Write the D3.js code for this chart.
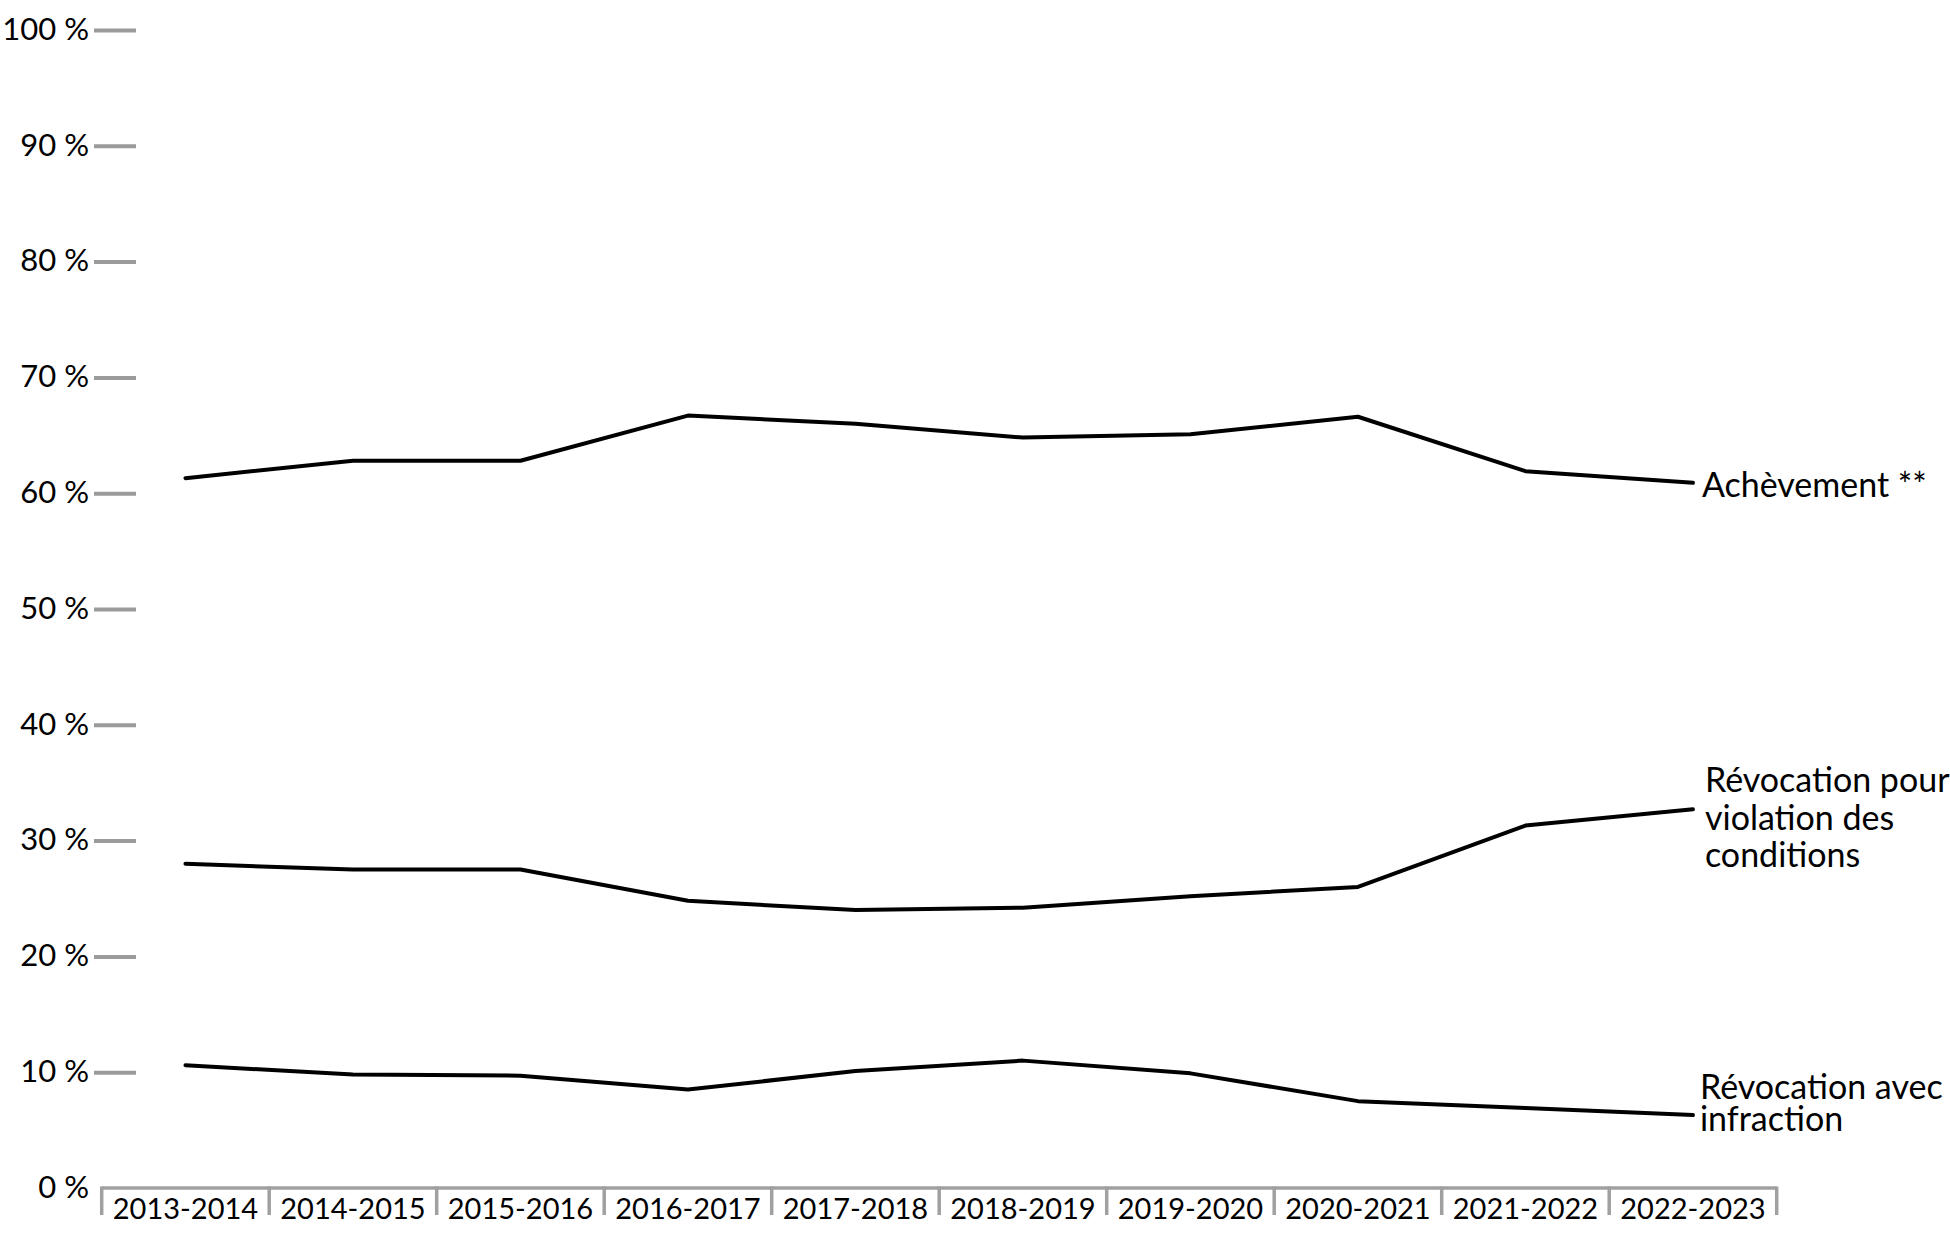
<!DOCTYPE html>
<html lang="fr">
<head>
<meta charset="utf-8">
<script src="https://cdn.jsdelivr.net/npm/d3@7"></script>
<style>
  html, body { margin: 0; padding: 0; background: #fff; }
  svg { display: block; }
  text { font-family: Lato, "Open Sans", sans-serif; fill: #000; }
</style>
</head>
<body>
<svg id="chart" width="1950" height="1260"></svg>
<script>
const categories = ["2013-2014","2014-2015","2015-2016","2016-2017","2017-2018","2018-2019","2019-2020","2020-2021","2021-2022","2022-2023"];
const achevement = [61.3, 62.8, 62.8, 66.7, 66.0, 64.8, 65.1, 66.6, 61.9, 60.9];
const violation = [28.0, 27.5, 27.5, 24.8, 24.0, 24.2, 25.2, 26.0, 31.3, 32.7];
const infraction = [10.6, 9.8, 9.7, 8.5, 10.1, 11.0, 9.9, 7.5, 6.9, 6.3];
const yTicks = [0, 10, 20, 30, 40, 50, 60, 70, 80, 90, 100];
const seriesLabels = [["Achèvement **"], ["Révocation pour", "violation des", "conditions"], ["Révocation avec", "infraction"]];

const svg = d3.select("#chart");
const x = d3.scaleBand().domain(categories).range([101.7, 1776.7]);
const y = d3.scaleLinear().domain([0, 100]).range([1188, 30]);

// Y axis
const yAxis = svg.append("g").attr("transform", "translate(136,0)")
  .call(d3.axisLeft(y).tickValues(yTicks).tickSize(42).tickPadding(5).tickFormat(d => d + "\u00a0%"));
yAxis.select(".domain").remove();
yAxis.selectAll(".tick line").attr("stroke", "#9b9b9b").attr("stroke-width", 4)
  .attr("display", d => d === 0 ? "none" : null);
yAxis.selectAll(".tick text").attr("font-size", 31).attr("font-family", "Lato").attr("fill", "#000").attr("dy", "0.3em");

// X axis
const xAxis = svg.append("g").attr("transform", `translate(0,${y(0)})`)
  .call(d3.axisBottom(x).tickSize(0).tickPadding(10));
xAxis.select(".domain").attr("stroke", "#a0a0a0").attr("stroke-width", 3.5)
  .attr("d", `M${x.range()[0]},0H${x.range()[1]}`);
xAxis.selectAll(".tick text").attr("font-size", 29).attr("font-family", "Lato").attr("fill", "#000");
const bounds = categories.map(d => x(d)).concat([x.range()[1]]);
xAxis.selectAll(".bound").data(bounds).enter().append("line")
  .attr("class", "bound")
  .attr("x1", d => d).attr("x2", d => d)
  .attr("y1", -1.5).attr("y2", 27)
  .attr("stroke", "#a0a0a0").attr("stroke-width", 3.5);

// Lines
const line = d3.line().x((d, i) => x(categories[i]) + x.bandwidth() / 2).y(d => y(d));
const series = [achevement, violation, infraction];
svg.selectAll(".series").data(series).enter().append("path")
  .attr("class", "series")
  .attr("d", d => line(d))
  .attr("fill", "none").attr("stroke", "#000").attr("stroke-width", 4)
  .attr("stroke-linejoin", "round").attr("stroke-linecap", "round");

// Labels
const lastX = x(categories[categories.length - 1]) + x.bandwidth() / 2;
const labelOffsets = [[14], [-17, 21, 58], [-16, 16]];
const lineLabelX = [9, 12, 7];
series.forEach((s, i) => {
  const ly = y(s[s.length - 1]);
  const t = svg.append("text").attr("font-size", 34).attr("font-family", "Lato");
  seriesLabels[i].forEach((txt, j) => {
    t.append("tspan").attr("x", lastX + lineLabelX[i]).attr("y", ly + labelOffsets[i][j]).text(txt);
  });
});
</script>
</body>
</html>
